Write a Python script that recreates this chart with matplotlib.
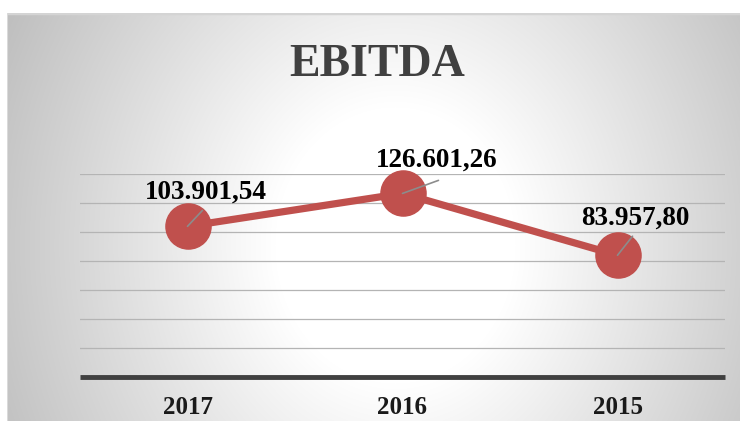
import numpy as np
import matplotlib
matplotlib.use("Agg")
import matplotlib.pyplot as plt

categories = ["2017", "2016", "2015"]
values = [103901.54, 126601.26, 83957.80]
value_labels = ["103.901,54", "126.601,26", "83.957,80"]
title = "EBITDA"

W, H, DPI = 740, 421, 100
fig = plt.figure(figsize=(W / DPI, H / DPI), dpi=DPI)
fig.patch.set_facecolor("white")

# panel background with radial gradient
px0, py_top = 7, 13
bg = fig.add_axes([px0 / W, 0, (W - px0) / W, (H - py_top) / H])
xs = np.arange(px0, W)
ys = np.arange(py_top, H)
X, Y = np.meshgrid(xs, ys)
cx, cy, rx, ry = 395, 245, 400, 460
t = np.sqrt(((X - cx) / rx) ** 2 + ((Y - cy) / ry) ** 2)
v = 255 - 57 * np.clip((t - 0.3) / 0.7, 0, 1.15)
v = np.clip(v, 0, 255) / 255.0
img = np.dstack([v, v, v])
bg.imshow(img, aspect="auto", extent=(0, 1, 0, 1), origin="upper")
bg.set_xlim(0, 1)
bg.set_ylim(0, 1)
bg.set_xticks([])
bg.set_yticks([])
for s in bg.spines.values():
    s.set_visible(False)
bg.axhline(1, color="#D4D4D4", lw=2.5)
bg.axvline(0, color="#DADADA", lw=1.5)

# plot area
left, right, bottom, top = 80, 725, 377, 174
ax = fig.add_axes([left / W, (H - bottom) / H, (right - left) / W, (bottom - top) / H])
ax.set_facecolor("none")
x = np.arange(len(categories))
ax.set_xlim(-0.5, len(categories) - 0.5)
ax.set_ylim(0, 140000)
ax.set_yticks(np.arange(0, 140001, 20000))
ax.yaxis.grid(True, color="#B4B4B4", lw=0.9)
ax.set_axisbelow(True)
for s in ax.spines.values():
    s.set_visible(False)
ax.tick_params(axis="y", left=False, labelleft=False)
ax.tick_params(axis="x", bottom=False, pad=10)
ax.set_xticks(x)
ax.set_xticklabels(categories, fontsize=18, fontweight="bold",
                   family="Liberation Serif", color="#1A1A1A")
ax.axhline(0, color="#404040", lw=3.5, zorder=2, clip_on=False,
           solid_capstyle="butt")

ax.plot(x, values, color="#C0504D", lw=5.2, marker="o", markersize=32.5,
        markerfacecolor="#C0504D", markeredgecolor="#C0504D", zorder=3,
        clip_on=False)

label_offsets = [(13, 24.5), (24.5, 24), (13, 26.6)]
leader_ends = [(10.8, 11.5), (25.9, 9.4), (10.8, 13.7)]
for xi, yv, lab, off, le in zip(x, values, value_labels, label_offsets, leader_ends):
    ax.annotate("", xy=(xi, yv), xytext=le, textcoords="offset points",
                arrowprops=dict(arrowstyle="-", color="#8C8C8C", lw=1.2,
                                shrinkA=0, shrinkB=0), zorder=5)
    ax.annotate(lab, xy=(xi, yv), xytext=off, textcoords="offset points",
                ha="center", va="center", fontsize=19.5, fontweight="bold",
                family="Liberation Serif", color="black", zorder=6)

fig.text(377 / W, 1 - 65 / H, title, ha="center", va="center", fontsize=33,
         fontweight="bold", family="Liberation Serif", color="#404040")

fig.savefig("out.png", dpi=DPI)
